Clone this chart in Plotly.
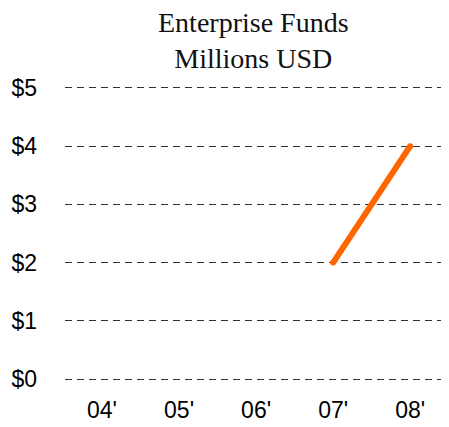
import plotly.graph_objects as go

years = ["04'", "05'", "06'", "07'", "08'"]
funds = [None, None, None, 2, 4]
y_ticks = [0, 1, 2, 3, 4, 5]
y_labels = ["$0", "$1", "$2", "$3", "$4", "$5"]
title_text = "Enterprise Funds<br>Millions USD"

fig = go.Figure()
fig.add_trace(go.Scatter(
    x=list(range(len(years))), y=funds, mode="lines+markers",
    line=dict(color="#FF6600", width=6),
    marker=dict(color="#FF6600", size=6),
    connectgaps=False, hoverinfo="skip", showlegend=False,
))

fig.add_annotation(
    text=title_text, xref="paper", yref="paper",
    x=0.5, xanchor="center", y=1.27, yanchor="top",
    showarrow=False,
    font=dict(family="Liberation Serif", size=28, color="#111"),
)

fig.update_layout(
    width=441, height=419,
    margin=dict(l=57, r=8, t=77, b=45),
    paper_bgcolor="white", plot_bgcolor="white",
    xaxis=dict(
        range=[-0.48, 4.4], tickmode="array",
        tickvals=list(range(len(years))), ticktext=years,
        showgrid=False, zeroline=False, showline=False, ticks="",
        tickfont=dict(family="Liberation Sans", size=23, color="#000"),
        ticklabelstandoff=12, automargin=False,
    ),
    yaxis=dict(
        range=[-0.05, 5.05], tickmode="array",
        tickvals=y_ticks, ticktext=y_labels,
        showgrid=True, gridcolor="#333", gridwidth=1, griddash="7px,5px",
        zeroline=False, showline=False, ticks="",
        tickfont=dict(family="Liberation Sans", size=23, color="#000"),
        ticklabelstandoff=27, automargin=False,
    ),
)

fig.write_html("out.html")
